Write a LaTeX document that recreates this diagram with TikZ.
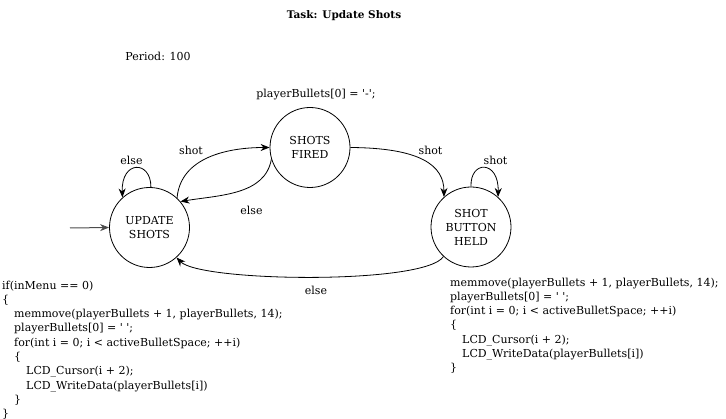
\documentclass[tikz,border=0pt]{standalone}
\usepackage{fontspec}
\setmainfont{DejaVu Serif}
\usetikzlibrary{arrows.meta}
\newcommand\sq{\textquotesingle}
\begin{document}
\begin{tikzpicture}[x=1pt,y=-1pt,
  state/.style={draw, circle, minimum size=80pt, inner sep=0pt, align=center, font=\fontsize{11}{14}\selectfont, line width=0.8pt},
  edge/.style={-{Stealth[length=9pt,width=7pt]}, line width=0.8pt},
  lbl/.style={font=\fontsize{11}{13}\selectfont, inner sep=0pt},
  code/.style={font=\fontsize{11}{14.3}\selectfont, align=left, inner sep=0pt, anchor=north west}]
\useasboundingbox (0,0) rectangle (726,419);
\node[font=\bfseries\fontsize{10.5}{13}\selectfont, inner sep=0pt] (title) at (344,16) {Task: Update Shots};
\node[lbl] (period) at (158,56) {Period: 100};
\node[state] (us) at (149.5,227.5) {UPDATE\\SHOTS};
\node[state] (sf) at (310,147.5) {SHOTS\\FIRED};
\node[state] (sbh) at (471,227) {SHOT\\BUTTON\\HELD};
\node[lbl] (act) at (316,95) {playerBullets[0] = \sq-\sq;};
\coordinate (start) at (70,228);
\draw[edge, draw=black!70, line width=1pt] (start) -- (us.west);
\draw[edge] (us.88) .. controls (151,160) and (121,160) .. (us.132);
\draw[edge] (us.47) to[out=85,in=180] (sf.west);
\draw[edge] (sf.197) .. controls (265,195) and (220,195) .. (us.40);
\draw[edge] (sf.east) .. controls (420,148) and (444,165) .. (sbh.132);
\draw[edge] (sbh.90) .. controls (470,160) and (499,160) .. (sbh.48);
\draw[edge] (sbh.227) .. controls (425,285) and (200,282) .. (us.312);
\node[lbl] (l1) at (131.5,160) {else};
\node[lbl] (l2) at (191,150) {shot};
\node[lbl] (l3) at (251.5,210) {else};
\node[lbl] (l4) at (430.5,150) {shot};
\node[lbl] (l5) at (495.5,160) {shot};
\node[lbl] (l6) at (316,290) {else};
\node[code] (codeL) at (2,280.5) {if(inMenu == 0)\\
\{\\
\hspace*{12pt}memmove(playerBullets + 1, playerBullets, 14);\\
\hspace*{12pt}playerBullets[0] = \sq\ \sq;\\
\hspace*{12pt}for(int i = 0; i < activeBulletSpace; ++i)\\
\hspace*{12pt}\{\\
\hspace*{24pt}LCD\_Cursor(i + 2);\\
\hspace*{24pt}LCD\_WriteData(playerBullets[i])\\
\hspace*{12pt}\}\\
\}};
\node[code] (codeR) at (450,277.5) {memmove(playerBullets + 1, playerBullets, 14);\\
playerBullets[0] = \sq\ \sq;\\
for(int i = 0; i < activeBulletSpace; ++i)\\
\{\\
\hspace*{12pt}LCD\_Cursor(i + 2);\\
\hspace*{12pt}LCD\_WriteData(playerBullets[i])\\
\}};
\end{tikzpicture}
\end{document}
